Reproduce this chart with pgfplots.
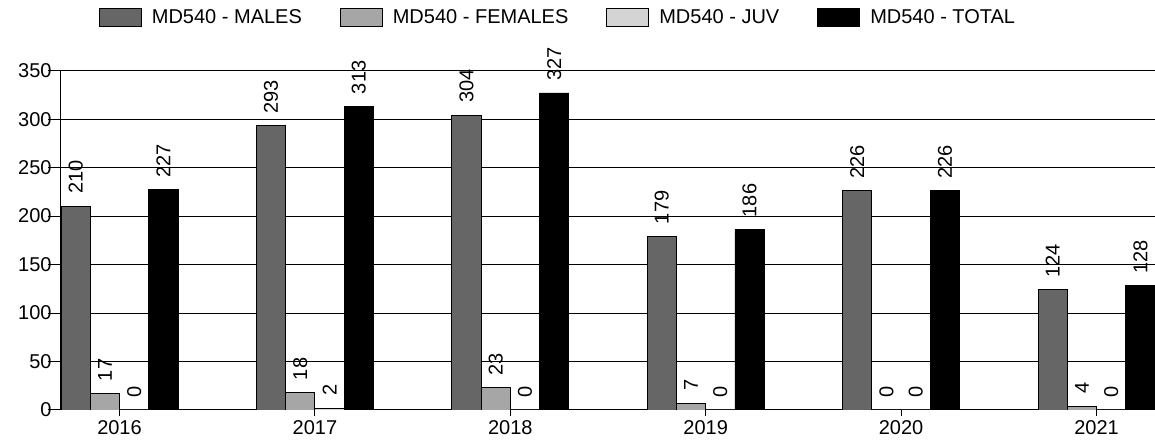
\documentclass[border=0pt]{standalone}
\usepackage{fontspec}
\setmainfont{Liberation Sans}
\usepackage{pgfplots}
\pgfplotsset{compat=1.18}

\definecolor{males}{HTML}{666666}
\definecolor{females}{HTML}{A6A6A6}
\definecolor{juv}{HTML}{D4D4D4}

\pgfplotsset{
  barbox/.style={
    fill=#1, draw=black, line width=0.9pt,
    legend image code/.code={\draw[fill=#1,draw=black,line width=0.9pt] (0pt,-9pt) rectangle (42pt,9pt);}
  }
}

\begin{document}
\begin{tikzpicture}
\begin{axis}[
  scale only axis,
  width=1094pt, height=339.3pt,
  ybar=0pt, bar width=29.25pt,
  xmin=-0.29939, xmax=5.29939,
  ymin=0, ymax=350,
  ytick={0,50,...,350},
  xtick={0,1,2,3,4,5},
  xticklabels={2016,2017,2018,2019,2020,2021},
  axis x line*=bottom, axis y line*=left,
  axis line style={black, line width=1pt},
  ymajorgrids, grid style={black, line width=1pt},
  tick align=outside,
  tick style={black, line width=1pt},
  xtick style={/pgfplots/major tick length=6pt},
  ytick style={/pgfplots/major tick length=13pt},
  font=\fontsize{20}{24}\selectfont,
  /pgf/number format/assume math mode=true,
  yticklabel style={inner sep=0pt, xshift=-5pt},
  xticklabel style={inner sep=0pt, yshift=-6pt},
  nodes near coords,
  every node near coord/.append style={rotate=90, anchor=west, inner xsep=12pt, inner ysep=0pt, font=\fontsize{20}{24}\selectfont, black},
  legend columns=4,
  legend cell align=left,
  legend style={
    at={(0.03473,1.1583)}, anchor=west,
    draw=none, fill=none, inner sep=0pt, outer sep=0pt,
    font=\fontsize{20}{24}\selectfont,
    nodes={inner sep=0pt},
    /tikz/every odd column/.append style={column sep=10pt},
    /tikz/every even column/.append style={column sep=38pt},
  },
]
\addplot[barbox=males] coordinates {(0,210) (1,293) (2,304) (3,179) (4,226) (5,124)};
\addplot[barbox=females] coordinates {(0,17) (1,18) (2,23) (3,7) (4,0) (5,4)};
\addplot[barbox=juv] coordinates {(0,0) (1,2) (2,0) (3,0) (4,0) (5,0)};
\addplot[barbox=black] coordinates {(0,227) (1,313) (2,327) (3,186) (4,226) (5,128)};
\legend{MD540 - MALES, MD540 - FEMALES, MD540 - JUV, MD540 - TOTAL}
\coordinate (SW) at (rel axis cs:0,0);
\coordinate (NE) at (rel axis cs:1,1);
\end{axis}
\pgfresetboundingbox
\path ([shift={(-61pt,-35pt)}]SW) rectangle ([shift={(0pt,70.7pt)}]NE);
\end{tikzpicture}
\end{document}
